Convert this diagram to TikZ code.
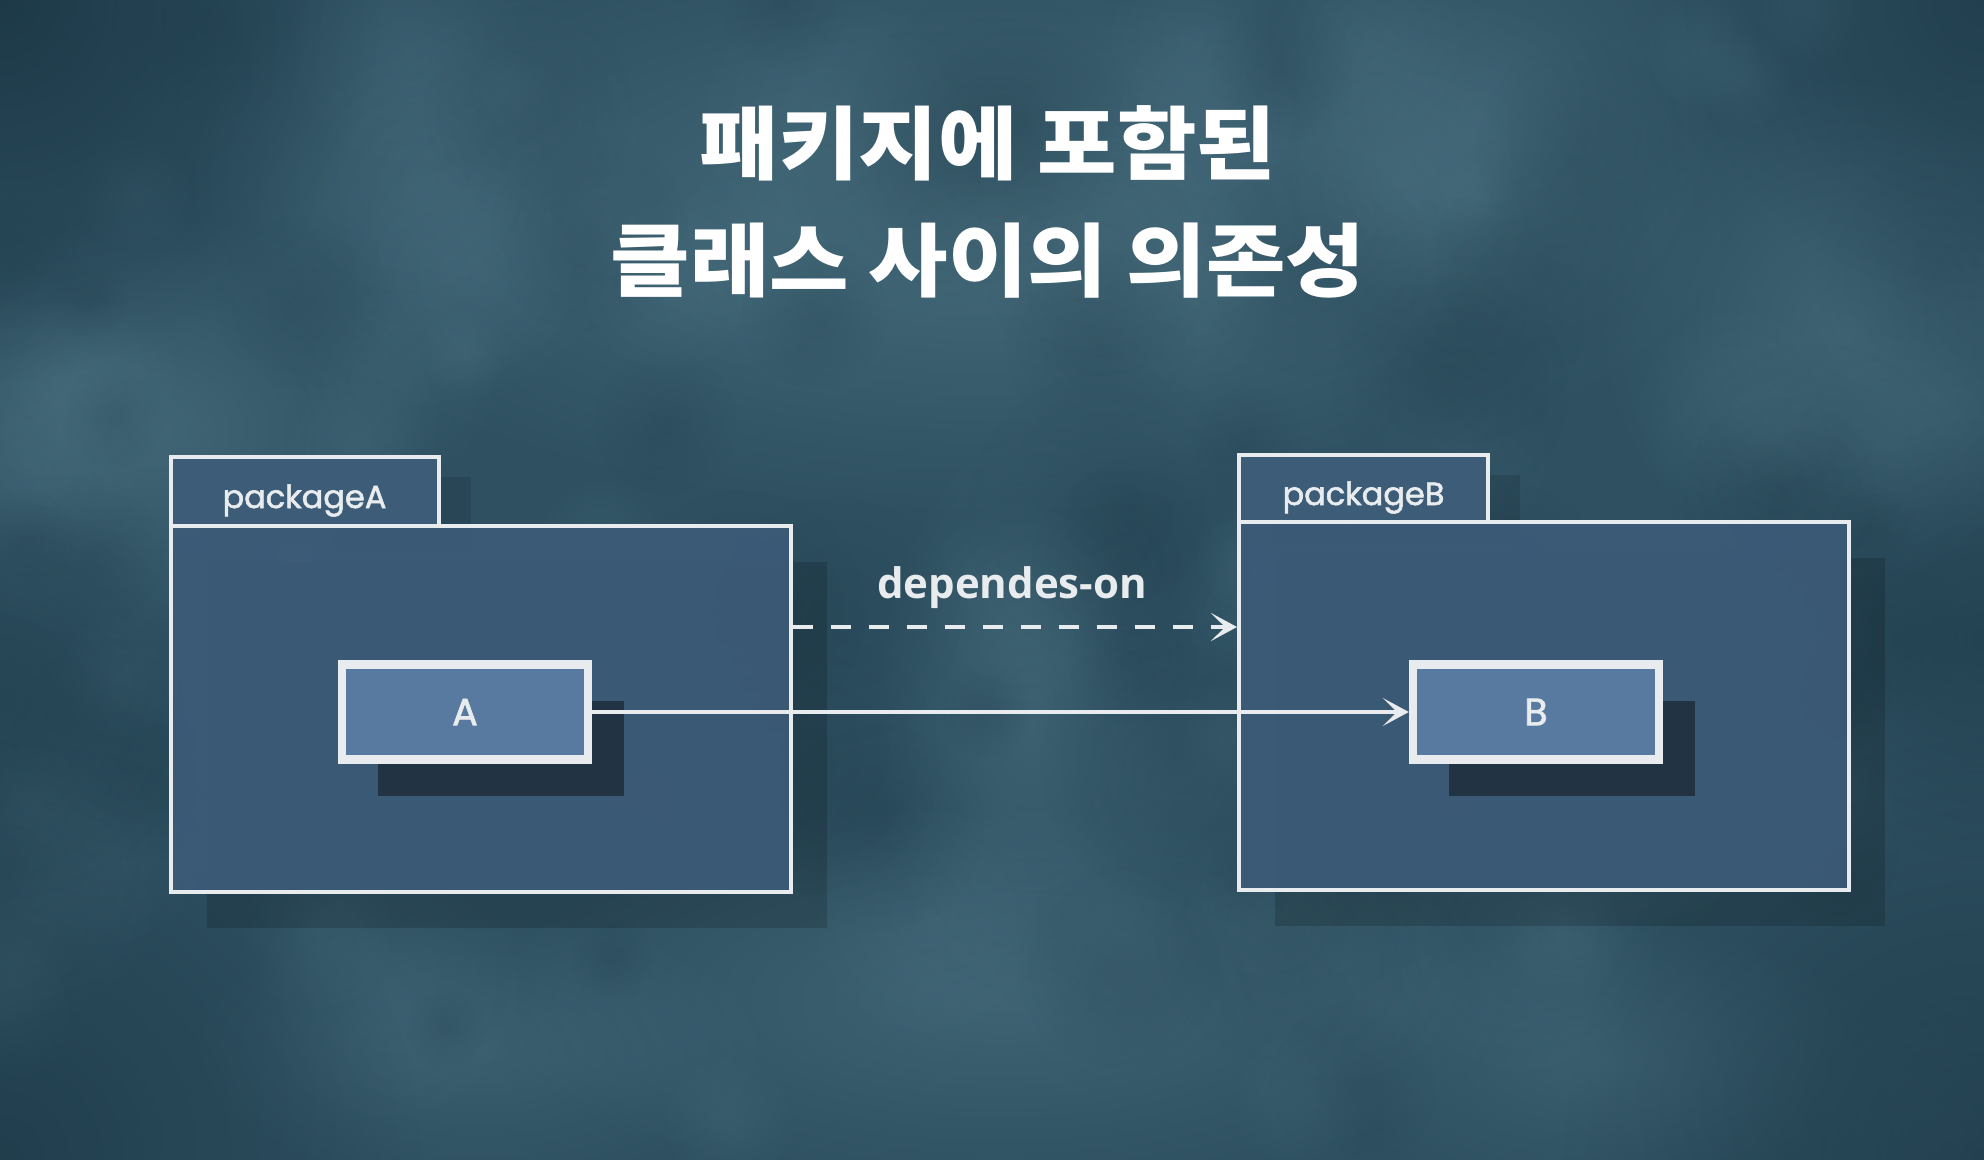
\documentclass[tikz,border=0pt]{standalone}
\usepackage{fontspec}
\newfontfamily\krfont{Noto Sans CJK KR}[FakeStretch=1.08]
\newfontfamily\ppfont{Poppins}[FakeBold=1.8]
\newfontfamily\osfont{Open Sans}
\usetikzlibrary{arrows.meta,shadows,fadings}
\tikzfading[name=softblob, inner color=transparent!0, outer color=transparent!100]
\definecolor{bgc}{HTML}{2E5061}
\definecolor{bglight}{HTML}{58808F}
\definecolor{bgdark}{HTML}{183240}
\definecolor{pkgfill}{HTML}{3C5B78}
\definecolor{tabfill}{HTML}{3D5C77}
\definecolor{boxfill}{HTML}{587AA0}
\definecolor{linec}{HTML}{E8ECEE}
\definecolor{shadowc}{HTML}{1E2E3C}
\tikzset{
  pkgbody/.style={draw=linec, line width=2pt, fill=pkgfill, fill opacity=0.93, draw opacity=1, text opacity=1,
    general shadow={shadow xshift=18pt, shadow yshift=-18pt, fill=black, opacity=0.16}, inner sep=0pt},
  pkgtab/.style={draw=linec, line width=2pt, fill=tabfill, inner sep=0pt,
    general shadow={shadow xshift=16pt, shadow yshift=-10pt, fill=black, opacity=0.12}},
  clsbox/.style={draw=linec, line width=4.2pt, fill=boxfill, inner sep=0pt,
    minimum width=123pt, minimum height=47.5pt,
    general shadow={shadow xshift=18pt, shadow yshift=-18pt, fill=shadowc, opacity=0.85},
    font=\ppfont\fontsize{19pt}{22pt}\selectfont, text=linec},
  pkglabel/.style={font=\ppfont\fontsize{16pt}{19pt}\selectfont, text=linec, inner sep=0pt},
  deplabel/.style={font=\osfont\bfseries\fontsize{21pt}{25pt}\selectfont, text=linec, inner sep=0pt},
  titlelabel/.style={font=\krfont\bfseries\fontsize{40pt}{58.5pt}\selectfont, text=white, align=center, inner sep=0pt},
  conn/.style={draw=linec, line width=2pt, -{Stealth[length=13pt,width=14pt,inset=7pt]}},
  dashconn/.style={conn, line width=2.2pt, dash pattern=on 10pt off 9pt},
  lightblob/.style={fill=bglight, path fading=softblob},
  darkblob/.style={fill=bgdark, path fading=softblob}
}
\begin{document}
\begin{tikzpicture}[x=0.5pt,y=-0.5pt]
\useasboundingbox (0,0) rectangle (1984,1160);
% background
\fill[bgc] (0,0) rectangle (1984,1160);
\begin{scope}
\clip (0,0) rectangle (1984,1160);
\fill[lightblob, fill opacity=0.55] (990,220) ellipse [x radius=760, y radius=300];
\fill[lightblob, fill opacity=0.45] (150,430) ellipse [x radius=300, y radius=220];
\fill[lightblob, fill opacity=0.40] (1850,330) circle [radius=260];
\fill[lightblob, fill opacity=0.40] (1000,1000) ellipse [x radius=520, y radius=200];
\fill[lightblob, fill opacity=0.35] (1480,120) circle [radius=240];
\fill[lightblob, fill opacity=0.30] (420,180) circle [radius=240];
\fill[lightblob, fill opacity=0.35] (1030,720) ellipse [x radius=160, y radius=300];
\fill[lightblob, fill opacity=0.30] (480,1050) ellipse [x radius=300, y radius=140];
\fill[lightblob, fill opacity=0.30] (1600,1060) ellipse [x radius=300, y radius=140];
\pgfmathsetseed{11}
\foreach \i in {1,...,70}{
  \pgfmathsetmacro\bx{rnd*1984}
  \pgfmathsetmacro\by{rnd*1160}
  \pgfmathsetmacro\br{40+rnd*110}
  \fill[lightblob, fill opacity=0.18] (\bx,\by) circle [radius=\br];
}
\foreach \i in {1,...,50}{
  \pgfmathsetmacro\bx{rnd*1984}
  \pgfmathsetmacro\by{rnd*1160}
  \pgfmathsetmacro\br{40+rnd*110}
  \fill[darkblob, fill opacity=0.18] (\bx,\by) circle [radius=\br];
}
\fill[darkblob, fill opacity=0.75] (0,0) circle [radius=380];
\fill[darkblob, fill opacity=0.6] (0,1160) circle [radius=420];
\fill[darkblob, fill opacity=0.6] (1984,1160) circle [radius=420];
\fill[darkblob, fill opacity=0.55] (1984,0) circle [radius=300];
\fill[darkblob, fill opacity=0.45] (1984,640) circle [radius=220];
\fill[darkblob, fill opacity=0.4] (0,700) circle [radius=200];
\end{scope}
% title
\node[titlelabel] (title) at (988,202) {패키지에 포함된\\클래스 사이의 의존성};
% package A
\node[pkgtab, minimum width=134pt, minimum height=34.5pt] (tabA) at (304.5,491.5) {};
\node[pkgbody, minimum width=310pt, minimum height=183pt] (pA) at (480.5,709) {};
\node[pkglabel, yshift=-4.5pt] (labA) at (tabA.center) {packageA};
% package B
\node[pkgtab, minimum width=124.5pt, minimum height=33.5pt] (tabB) at (1363.5,488.5) {};
\node[pkgbody, minimum width=305pt, minimum height=184pt] (pB) at (1544,706) {};
\node[pkglabel, yshift=-4.5pt] (labB) at (tabB.center) {packageB};
% classes
\node[clsbox] (A) at (465,712) {A};
\node[clsbox] (B) at (1536,712) {B};
% connectors
\draw[conn] (A) -- (B);
\draw[dashconn] (pA.east |- 0,627) -- (pB.west |- 0,627);
\node[deplabel] (dep) at (1012,588) {dependes-on};
\end{tikzpicture}
\end{document}
